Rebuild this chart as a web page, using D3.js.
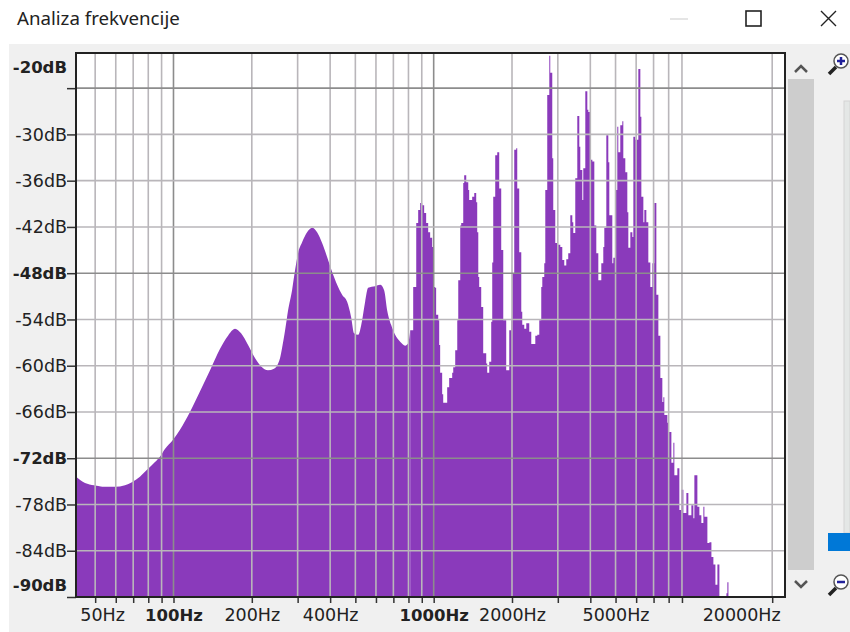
<!DOCTYPE html>
<html>
<head>
<meta charset="utf-8">
<title>Analiza frekvencije</title>
<script src="https://d3js.org/d3.v7.min.js"></script>
<style>
html, body { margin: 0; padding: 0; background: #fff; overflow: hidden; }
svg { display: block; }
text { font-family: "DejaVu Sans", sans-serif; fill: #222; }
</style>
</head>
<body>
<svg width="850" height="632"></svg>
<script>
// spectrum: frequency in Hz, level in dB
var freqHz = [42.2,45.7,49.5,54.5,59.6,65.1,69.2,74.3,79.1,84.9,88.7,92.7,99.6,105.9,115.7,126.5,138.2,151,162,172.4,181.9,193.5,205.7,218.9,230.7,243.4,256.8,
261.4,268.5,275.7,285.6,293.3,301.2,312.1,326.2,341,356.4,372.6,389.4,407,425.5,444.8,464.9,481.7,494.6,512.6,530.9,545.2,560,595.7,622.6,645,662.4,686.2,711,743.3,777,798,812.6,
834.2,857,871.8,887.4,903.2,919.2,935.5,952.4,969.3,986.7,995.6,1013,1022,1041,1050,1059,1078,1088,1107,1127,1147,1178,1189,1210,1232,1243,1265,1276,1299,1310,1334,1358,1369,1406,1432,1457,1470,1484,1496,1523,1550,1592,1606,1635,1664,1679,1694,1724,1755,1786,1818,1851,1900,1952,1987,
2004,2040,2076,2095,2132,2171,2190,2229,2269,2310,2330,2372,2414,2458,2502,2546,2591,2615,2661,2685,2732,2782,2806,2856,2881,2933,2985,3066,3121,3176,3233,3290,3350,3410,3440,3501,3564,3628,3660,3726,3758,3826,3895,3929,
4000,4072,4144,4217,4293,4408,4486,4527,4608,4690,4732,4859,4903,4990,5078,5123,5214,5309,5356,5451,5549,5599,5699,5802,5853,5957,6117,6227,6283,6395,6452,6566,6683,6803,6927,7049,7175,7304,7433,7565,7633,7700,7909,7980,
8195,8340,8414,8640,8795,8952,9113,9359,9524,9781,9956,10044,10315,10500,10686,10877,10975,11270,11470,11680,11885,12100,12315,12535,13335,13450,13580,22400];
var levelDb = [-74.4,-75.2,-75.5,-75.7,-75.7,-75.5,-75.1,-74.4,-73.5,-72.5,-71.8,-70.8,-69.6,-68.3,-66,-63.3,-60.6,-57.8,-56.1,-55.2,-55.8,-57.3,-59,-60.2,-60.6,-60.4,-59,
-57.7,-55.4,-52.8,-50.2,-47.6,-45.4,-44,-42.7,-42.1,-42.7,-44.1,-45.9,-47.8,-49.5,-50.8,-51.7,-53.7,-55.8,-56,-54.1,-51.7,-49.9,-49.7,-49.5,-50.2,-52.8,-54.7,-56,-56.9,-57.4,-57.1,-55.4,
-49.8,-41.5,-39.8,-38.9,-39.2,-40.2,-41.5,-42.7,-43.4,-44.6,-49.8,-49.9,-53.4,-54.1,-57.3,-60.9,-63.7,-64.8,-64.8,-62.8,-61.6,-60.9,-60.2,-58,-54.1,-48.9,-41.8,-41.5,-36.3,-35.3,-36.2,-37.2,-38.5,-38.1,-37.6,-38.8,-42.7,-48.5,-49.8,-52.4,-58.4,-59.7,-60.9,-59.5,-54.3,-46.6,-38.1,-32.7,-32.3,-37,-45,-54.1,-60.6,-55.4,-54.1,
-48,-32,-31.8,-37,-45.3,-53,-54.7,-55.2,-54.5,-54.5,-55.6,-57.2,-57.2,-56.1,-56,-54.1,-49.8,-48.5,-46.7,-37.2,-24.9,-19.8,-22,-33.1,-39.8,-44.1,-44.3,-44.6,-46.3,-47,-46.2,-45.4,-40.5,-41.4,-42.8,-35.7,-27.6,-31.6,-34.6,-38.5,-34.4,-24.4,-26.8,-27.1,
-33.3,-33.5,-41.8,-45.4,-48.9,-46.7,-44.6,-42.1,-30.1,-33.6,-40.5,-46.7,-46,-37.2,-29,-32.3,-28.8,-28.3,-33.1,-34.9,-40.1,-44.7,-42.7,-43.3,-30.3,-30.7,-21.5,-27.7,-38.1,-41.4,-39.8,-41.4,-46.6,-49.8,-46.7,-38.9,-50.8,-56.1,-61.6,-64.7,-64.1,-66.4,-67.4,-68.6,
-72.6,-70,-74.2,-73.3,-78.7,-76.1,-79.1,-76.5,-79.4,-78.1,-79.8,-74.2,-78.3,-79.4,-80.4,-78.3,-79.6,-83,-82.9,-84.8,-85.8,-88.4,-85.8,-90,-89.5,-88.1,-90,-90];

var smoothBelowHz = 830;

var gridHz = [50,60,70,80,90,100,200,300,400,500,600,700,800,900,1000,2000,3000,4000,5000,6000,7000,8000,9000,20000];
var gridDb = [-24,-30,-36,-42,-48,-54,-60,-66,-72,-78,-84];
var darkHz = [100,1000];
var darkDb = [-24,-48,-72];
var labelHz = [50,100,200,400,1000,2000,5000,20000];
var labelDb = [-20,-30,-36,-42,-48,-54,-60,-66,-72,-78,-84,-90];
var boldLabels = [100,1000,-20,-48,-72,-90];

var left = 76, right = 785, top_ = 53, bottom = 597;

var svg = d3.select('svg');

var scaleX = d3.scaleLog().domain([42.2, 22400]).range([left, right]);
var scaleY = d3.scaleLinear().domain([-90, -19.44]).range([bottom, top_]);

// window and panel
svg.append('rect').attr('width',850).attr('height',632).attr('fill','#fff');
svg.append('rect').attr('x',9).attr('y',44).attr('width',841).attr('height',588).attr('fill','#f0f0f0');
svg.append('rect').attr('x',left).attr('y',top_).attr('width',right-left).attr('height',bottom-top_).attr('fill','#fff');

svg.append('text')
    .attr('x',17)
    .attr('y',25)
    .attr('font-size',18.7)
    .style('font-family','"Noto Sans"')
    .text('Analiza frekvencije');

// title bar buttons
svg.append('line').attr('x1',670).attr('x2',688).attr('y1',19).attr('y2',19).attr('stroke','#ddd').attr('stroke-width',1.5);
svg.append('rect').attr('x',746).attr('y',11).attr('width',15).attr('height',15).attr('fill','none').attr('stroke','#222').attr('stroke-width',1.6);
svg.append('path').attr('d','M821,11L836,26M836,11L821,26').attr('fill','none').attr('stroke','#222').attr('stroke-width',1.4);

// spectrum
var clip = svg.append('clipPath').attr('id','plot').append('rect')
    .attr('x',left).attr('y',top_).attr('width',right-left).attr('height',bottom-top_);

var points = freqHz.map(function (f, i) { return {hz: f, db: levelDb[i]}; });
var smooth = points.filter(function (d) { return d.hz < smoothBelowHz; });
var fine = points.filter(function (d) { return d.hz >= smooth[smooth.length-1].hz; });

var area = d3.area()
    .x(function (d) { return scaleX(d.hz); })
    .y0(scaleY(-90))
    .y1(function (d) { return scaleY(d.db); });

var plot = svg.append('g').attr('clip-path','url(#plot)');
plot.append('path').datum(smooth).attr('d',area.curve(d3.curveMonotoneX)).attr('fill','#8a3abb');
plot.append('path').datum(fine).attr('d',area.curve(d3.curveStepAfter)).attr('fill','#8a3abb');

// grid over the bars
plot.selectAll('.gridx')
    .data(gridHz)
    .enter()
    .append('line')
    .attr('x1',function (d) { return scaleX(d); })
    .attr('x2',function (d) { return scaleX(d); })
    .attr('y1',top_)
    .attr('y2',bottom)
    .attr('stroke',function (d) { return darkHz.indexOf(d) >= 0 ? '#8c8c8c' : '#b9b6ba'; })
    .attr('stroke-width',1.6);

plot.selectAll('.gridy')
    .data(gridDb)
    .enter()
    .append('line')
    .attr('x1',left)
    .attr('x2',right)
    .attr('y1',function (d) { return scaleY(d); })
    .attr('y2',function (d) { return scaleY(d); })
    .attr('stroke',function (d) { return darkDb.indexOf(d) >= 0 ? '#8c8c8c' : '#b9b6ba'; })
    .attr('stroke-width',1.6);

// axes
var axisX = d3.axisBottom(scaleX)
    .tickValues(gridHz)
    .tickSize(6)
    .tickSizeOuter(0)
    .tickFormat(function (d) { return labelHz.indexOf(d) >= 0 ? d + 'Hz' : ''; });

var axisY = d3.axisLeft(scaleY)
    .tickValues(gridDb.concat([-20,-90]))
    .tickSize(9)
    .tickSizeOuter(0)
    .tickFormat(function (d) { return labelDb.indexOf(d) >= 0 ? d + 'dB' : ''; });

var gx = svg.append('g').attr('transform','translate(0,'+bottom+')').call(axisX);
var gy = svg.append('g').attr('transform','translate('+left+',0)').call(axisY);

gx.select('.domain').remove();
gy.select('.domain').remove();

gx.selectAll('.tick line').attr('stroke','#333').attr('stroke-width',1.5);
gy.selectAll('.tick line').attr('stroke','#333').attr('stroke-width',1.5);
gy.selectAll('.tick').filter(function (d) { return d === -20; }).select('line').remove();

gx.selectAll('text')
    .attr('y',12)
    .attr('font-size',function (d) { return boldLabels.indexOf(d) >= 0 ? 16.5 : 17.5; })
    .style('font-family','"DejaVu Sans"')
    .attr('fill','#222')
    .attr('font-weight',function (d) { return boldLabels.indexOf(d) >= 0 ? 'bold' : 'normal'; })
    .attr('dx',function (d) { return d === 50 ? 7 : d === 20000 ? -31 : 0; });

gy.selectAll('text')
    .attr('x',-9)
    .attr('font-size',function (d) { return boldLabels.indexOf(d) >= 0 ? 16.5 : 17.5; })
    .style('font-family','"DejaVu Sans"')
    .attr('fill','#222')
    .attr('font-weight',function (d) { return boldLabels.indexOf(d) >= 0 ? 'bold' : 'normal'; })
    .attr('dy',function (d) { return d === -20 ? '0.95em' : d === -90 ? '-0.42em' : '0.32em'; });

// frame
svg.append('rect').attr('x',left).attr('y',top_).attr('width',right-left).attr('height',bottom-top_)
    .attr('fill','none').attr('stroke','#222').attr('stroke-width',2);

// scrollbar
svg.append('rect').attr('x',788).attr('y',79).attr('width',26).attr('height',491).attr('fill','#cdcdcd');
svg.append('path').attr('d','M795,72L801,66L807,72').attr('fill','none').attr('stroke','#555').attr('stroke-width',2.5);
svg.append('path').attr('d','M795,581L801,587L807,581').attr('fill','none').attr('stroke','#555').attr('stroke-width',2.5);

// zoom slider
svg.append('rect').attr('x',844).attr('y',101).attr('width',6).attr('height',432).attr('fill','#e4e7e6').attr('stroke','#d4d4d4');
svg.append('rect').attr('x',828).attr('y',533).attr('width',22).attr('height',18).attr('fill','#0078d7');

function magnifier(cy, plus) {
    var g = svg.append('g').attr('transform','translate(838,'+cy+')');
    g.append('line').attr('x1',-9).attr('y1',11).attr('x2',-2).attr('y2',4).attr('stroke','#222').attr('stroke-width',3.5);
    g.append('circle').attr('cx',3).attr('cy',-2).attr('r',7).attr('fill','#fff').attr('stroke','#555').attr('stroke-width',1.5);
    g.append('line').attr('x1',-1).attr('x2',7).attr('y1',-2).attr('y2',-2).attr('stroke','#22229a').attr('stroke-width',2.5);
    if (plus) {
        g.append('line').attr('x1',3).attr('x2',3).attr('y1',-6).attr('y2',2).attr('stroke','#22229a').attr('stroke-width',2.5);
    }
}
magnifier(63, true);
magnifier(584, false);
</script>
</body>
</html>
